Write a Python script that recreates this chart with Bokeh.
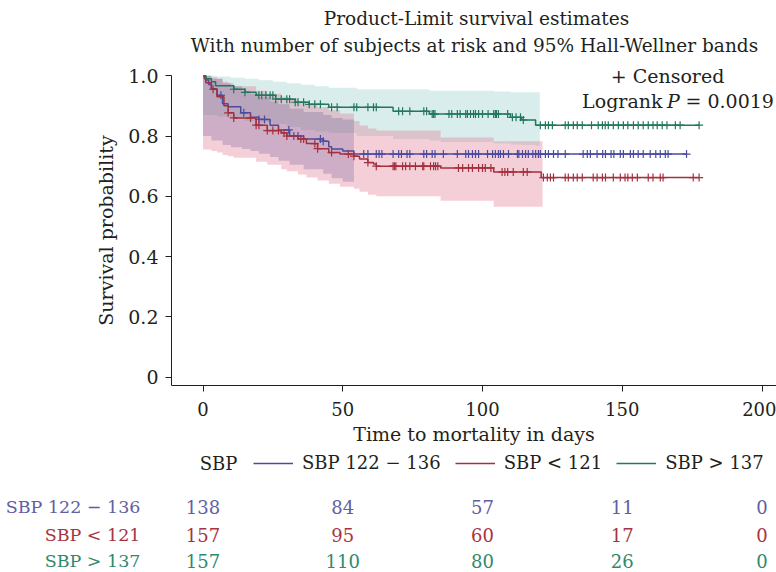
import numpy as np
from bokeh.plotting import figure
from bokeh.models import Range1d, Label, Legend, LegendItem, FixedTicker
from bokeh.core.properties import value
from bokeh.embed import file_html
from bokeh.resources import INLINE

# ---------------- data ----------------
# Kaplan-Meier step functions (time in days, survival probability)
blue_t = [0, 1, 2, 3, 5, 7, 9, 13.5, 17, 20, 24, 27, 31, 36, 43, 45, 46, 50, 54]
blue_s = [1.0, 0.986, 0.971, 0.957, 0.935, 0.907, 0.897, 0.877, 0.862, 0.855, 0.836,
          0.82, 0.80, 0.79, 0.783, 0.764, 0.757, 0.75, 0.74]
blue_end = 173
blue_cens = [6.4, 14.6, 20, 22, 30.7, 32.5, 34, 42, 43, 57.5, 59, 62, 63, 64, 68, 70, 71,
             73, 74, 79, 80, 82, 83, 86, 91, 94, 95, 96.4, 97.5, 98.6, 101.8, 103.6, 104.6,
             105.7, 106.4, 107.5, 109.3, 112.5, 113, 114.3, 115.4, 116.4, 118, 119, 120,
             120.7, 122.5, 123.6, 125.4, 127, 129.6, 136, 137.5, 138.6, 141, 143, 144, 146,
             147, 149.3, 150.4, 152.9, 154, 155.7, 157.5, 160, 162, 163.6, 165.4, 166.4, 173]

red_t = [0, 0.5, 1, 3, 5, 7.5, 9, 11, 19, 23, 28, 30, 34, 37, 41, 45, 49, 54, 56, 59, 61,
         62, 85, 104, 121]
red_s = [1.0, 0.99, 0.977, 0.955, 0.93, 0.90, 0.877, 0.86, 0.836, 0.818, 0.81, 0.80, 0.79,
         0.775, 0.758, 0.745, 0.74, 0.733, 0.724, 0.712, 0.707, 0.70, 0.694, 0.681, 0.662]
red_end = 177.5
red_cens = [3.6, 9, 11, 17, 19, 20, 23, 25, 27, 29, 30, 35, 36, 40, 41, 46, 52, 54, 59, 62,
            68, 68.5, 69, 71.4, 72.5, 74, 76, 78.6, 79, 81.4, 82.5, 83.2, 84, 91.4, 92.9, 95,
            96.4, 98.6, 100, 101, 103, 107, 108, 109, 111, 114.6, 116, 121.8, 123.2, 124.3,
            125.4, 129.6, 130.7, 132.5, 133.9, 135.7, 139.6, 141, 142.9, 144, 146.8, 149.3,
            151, 152, 153.6, 155.4, 159.3, 161, 163.6, 164.6, 175.4, 177.5]

green_t = [0, 1, 3, 4.5, 11, 15, 19, 26, 33, 38, 45, 68, 81, 110, 114, 119]
green_s = [1.0, 0.99, 0.98, 0.967, 0.955, 0.945, 0.935, 0.922, 0.912, 0.905, 0.895, 0.882,
           0.873, 0.862, 0.853, 0.836]
green_end = 177.5
green_cens = [11, 15, 20, 21, 22.5, 24, 25, 26, 28, 30, 31, 33, 34, 36, 38, 40, 42, 46, 48,
              54, 55, 59, 61, 62, 70, 71.4, 74, 79, 80, 82, 82.5, 83, 88, 89, 91, 92, 94,
              94.6, 95.7, 96.8, 97.5, 98.6, 100, 102, 104, 104.6, 105, 105.7, 109, 110.7,
              112, 113.6, 114.6, 120.7, 122.5, 123.6, 125, 129.6, 130.7, 132.5, 133.9,
              135.7, 139, 141.4, 142.9, 143.9, 145, 146.8, 148.6, 150.4, 152, 154, 155.7,
              157.5, 159.3, 161, 162.5, 164.3, 166, 169, 170.7, 177.5]

# 95% Hall-Wellner bands (step functions)
blue_band_t = [0, 3, 7, 10, 14, 17, 20, 24, 27, 31, 36, 43, 46, 50]
blue_band_lo = [0.80, 0.785, 0.77, 0.763, 0.757, 0.75, 0.741, 0.73, 0.718, 0.705, 0.69,
                0.675, 0.66, 0.648]
blue_band_hi = [1.0, 0.99, 0.975, 0.965, 0.95, 0.94, 0.93, 0.915, 0.905, 0.89, 0.88, 0.87,
                0.86, 0.855]
blue_band_end = 54

red_band_t = [0, 3, 5, 7, 9, 11, 19, 23, 28, 30, 34, 37, 41, 45, 49, 54, 56, 59, 62, 85, 104]
red_band_lo = [0.755, 0.75, 0.745, 0.737, 0.733, 0.728, 0.715, 0.705, 0.69, 0.683, 0.672,
               0.662, 0.652, 0.642, 0.632, 0.625, 0.615, 0.605, 0.60, 0.585, 0.565]
red_band_hi = [1.0, 0.995, 0.99, 0.98, 0.975, 0.965, 0.95, 0.94, 0.93, 0.925, 0.915, 0.905,
               0.895, 0.885, 0.875, 0.85, 0.835, 0.825, 0.818, 0.795, 0.783]
red_band_end = 121.5

green_band_t = [0, 5, 10, 15, 20, 25, 30, 35, 40, 45, 55, 68, 81, 85, 104, 110, 114, 119]
green_band_lo = [0.87, 0.865, 0.86, 0.85, 0.845, 0.84, 0.83, 0.82, 0.815, 0.81, 0.80, 0.79,
                 0.785, 0.78, 0.775, 0.772, 0.77, 0.768]
green_band_hi = [1.0, 0.997, 0.993, 0.99, 0.985, 0.98, 0.975, 0.97, 0.965, 0.96, 0.955,
                 0.955, 0.95, 0.95, 0.948, 0.945, 0.945, 0.945]
green_band_end = 120.5

# Number at risk
risk_times = [0, 50, 100, 150, 200]
risk_blue = [138, 84, 57, 11, 0]
risk_red = [157, 95, 60, 17, 0]
risk_green = [157, 110, 80, 26, 0]

group_labels = ["SBP 122 \u2212 136", "SBP < 121", "SBP > 137"]
x_ticks = [0, 50, 100, 150, 200]
y_ticks = [0, 0.2, 0.4, 0.6, 0.8, 1.0]

# ---------------- style / geometry ----------------
FONT = "DejaVu Serif"
FS = "19px"
FS_NUM = "18px"
TXT = "#231f20"
C_BLUE, C_RED, C_GREEN = "#4b4b9e", "#a3303c", "#22775e"
T_BLUE, T_RED, T_GREEN = "#6060a2", "#a8343f", "#2f8a6d"

W, H = 776, 572
AXIS_X_PX = 171      # page x of the y axis
AXIS_Y_PX = 385      # page y of the x axis
PX_PER_DAY = 2.795
DAY0_PX = 202.5
PX_PER_UNIT = 301.5
ONE_PX = 75.2


def dx(px):  # page x -> days
    return (px - DAY0_PX) / PX_PER_DAY


def dy(py):  # page y -> survival units
    return 1.0 - (py - ONE_PX) / PX_PER_UNIT


p = figure(width=W, height=H, x_range=Range1d(dx(0), dx(W)), y_range=Range1d(dy(H), dy(0)),
           output_backend="svg", toolbar_location=None, min_border=0)
p.outline_line_color = None
p.xgrid.visible = False
p.ygrid.visible = False


def band(t, lo, hi, end, color, alpha):
    p.varea_step(x=list(t) + [end], y1=list(lo) + [lo[-1]], y2=list(hi) + [hi[-1]],
                 step_mode="after", fill_color=color, fill_alpha=alpha)


band(green_band_t, green_band_lo, green_band_hi, green_band_end, "#7fc4c0", 0.30)
band(red_band_t, red_band_lo, red_band_hi, red_band_end, "#e06a85", 0.32)
band(blue_band_t, blue_band_lo, blue_band_hi, blue_band_end, "#645a96", 0.28)


def km(t, s, end, cens, color):
    r = p.step(x=list(t) + [end], y=list(s) + [s[-1]], mode="after",
               line_color=color, line_width=1.5)
    ta = np.asarray(t)
    sa = np.asarray(s)
    idx = np.searchsorted(ta, np.asarray(cens), side="right") - 1
    p.scatter(x=cens, y=sa[idx], marker="cross", size=8, line_color=color, line_width=1.2)
    return r


r_blue = km(blue_t, blue_s, blue_end, blue_cens, C_BLUE)
r_red = km(red_t, red_s, red_end, red_cens, C_RED)
r_green = km(green_t, green_s, green_end, green_cens, C_GREEN)

for ax in (p.xaxis[0], p.yaxis[0]):
    ax.axis_line_color = TXT
    ax.major_tick_line_color = TXT
    ax.minor_tick_line_color = None
    ax.major_tick_in = 0
    ax.major_tick_out = 6
    ax.major_label_text_font = FONT
    ax.major_label_text_color = TXT
    ax.axis_label_text_font = FONT
    ax.axis_label_text_font_size = FS
    ax.axis_label_text_font_style = "normal"
    ax.axis_label_text_color = TXT

p.xaxis.major_label_text_font_size = FS_NUM
p.yaxis.major_label_text_font_size = FS
p.xaxis.ticker = FixedTicker(ticks=x_ticks)
p.yaxis.ticker = FixedTicker(ticks=y_ticks)
p.xaxis.fixed_location = dy(AXIS_Y_PX)
p.yaxis.fixed_location = dx(AXIS_X_PX)
p.xaxis.bounds = (dx(AXIS_X_PX), dx(W))
p.yaxis.bounds = (dy(AXIS_Y_PX), 1.0)
p.yaxis.major_label_overrides = {0: "0", 1: "1.0"}
p.xaxis.axis_label = "Time to mortality in days"
p.yaxis.axis_label = "Survival probability"
p.xaxis.major_label_standoff = 10
p.xaxis.axis_label_standoff = 4
p.yaxis.major_label_standoff = 7
p.yaxis.axis_label_standoff = 8


def label(px, py, text, align="center", style="normal", size=FS, color=TXT):
    p.add_layout(Label(x=dx(px), y=dy(py), text=text, text_align=align,
                       text_baseline="middle", text_font=FONT, text_font_size=size,
                       text_color=color, text_font_style=style))


label(476, 18, "Product-Limit survival estimates", size="18.5px")
label(474, 45, "With number of subjects at risk and 95% Hall-Wellner bands", size="18.5px")
label(667, 75, "+ Censored")
label(662, 100, "Logrank", align="right")
label(673, 100, "P", style="italic")
label(685, 100, "= 0.0019", align="left")

# legend row
label(218, 463, "SBP", size="18px")
legend = Legend(items=[LegendItem(label=lab, renderers=[r])
                       for lab, r in zip(group_labels, (r_blue, r_red, r_green))],
                orientation="horizontal", location=(253, H - 463 - 10), padding=0,
                margin=0, spacing=14, glyph_width=40, glyph_height=20, label_height=20,
                label_standoff=9, label_text_font=FONT, label_text_font_size="18px",
                label_text_color=TXT, border_line_alpha=0, background_fill_alpha=0)
p.add_layout(legend)

# number at risk table
rows = [(risk_blue, T_BLUE, 506), (risk_red, T_RED, 534), (risk_green, T_GREEN, 560)]
for (vals, col, py), name in zip(rows, group_labels):
    p.text(x=[dx(140)], y=[dy(py)], text=[name], text_font=value(FONT),
           text_font_size=value("17.5px"), text_align=value("right"),
           text_baseline=value("middle"), text_color=col)
    p.text(x=risk_times, y=[dy(py)] * len(vals), text=[str(v) for v in vals],
           text_font=value(FONT), text_font_size=value(FS_NUM), text_align=value("center"),
           text_baseline=value("middle"), text_color=col)

open("out.html", "w").write(file_html(p, INLINE))
